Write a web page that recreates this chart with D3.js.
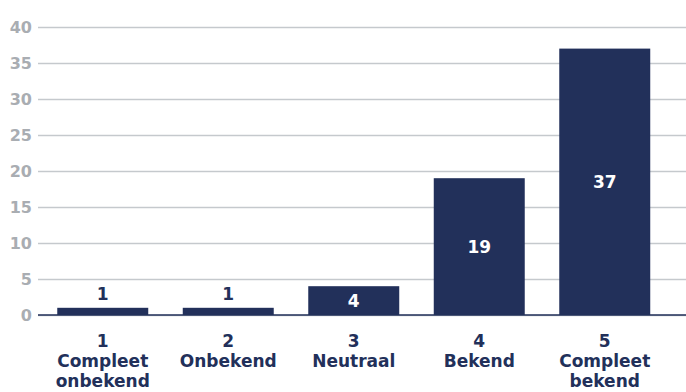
<!DOCTYPE html>
<html>
<head>
<meta charset="utf-8">
<script src="https://cdn.jsdelivr.net/npm/d3@7"></script>
<style>
  html, body { margin: 0; padding: 0; background: #ffffff; }
  svg { display: block; font-family: "DejaVu Sans", "Open Sans", sans-serif; font-weight: bold; }
</style>
</head>
<body>
<svg id="chart" width="686" height="392"></svg>
<script>
// Scores on a 1–5 scale and how many respondents picked each
const scores = ["1", "2", "3", "4", "5"];
const scoreNames = [["Compleet", "onbekend"], ["Onbekend"], ["Neutraal"], ["Bekend"], ["Compleet", "bekend"]];
const counts = [1, 1, 4, 19, 37];
const yTicks = [0, 5, 10, 15, 20, 25, 30, 35, 40];

const navy = "#22305a";
const grid = "#c5c9cd";
const tickGrey = "#a9adb2";

const svg = d3.select("#chart");

const x = d3.scaleBand()
  .domain(scores)
  .range([40, 667.5])
  .paddingInner(0.275)
  .paddingOuter(0.1375);

const y = d3.scaleLinear()
  .domain([0, 40])
  .range([315, 27]);

// Horizontal gridlines with tick labels on the left
const yAxis = d3.axisLeft(y)
  .tickValues(yTicks)
  .tickSize(-(686 - 38))
  .tickPadding(6);

const gy = svg.append("g")
  .attr("transform", "translate(38,0)")
  .call(yAxis);
gy.select(".domain").remove();
gy.selectAll(".tick line")
  .attr("stroke", grid)
  .attr("stroke-width", 1.6);
gy.selectAll(".tick text")
  .attr("fill", tickGrey)
  .attr("font-size", 16)
  .attr("font-weight", "bold")
  .attr("font-family", "DejaVu Sans, sans-serif");

// Bars
svg.append("g")
  .selectAll("rect")
  .data(counts)
  .join("rect")
  .attr("x", (d, i) => x(scores[i]))
  .attr("width", x.bandwidth())
  .attr("y", d => y(d))
  .attr("height", d => y(0) - y(d))
  .attr("fill", navy);

// Baseline
svg.append("line")
  .attr("x1", 38).attr("x2", 686)
  .attr("y1", y(0)).attr("y2", y(0))
  .attr("stroke", navy)
  .attr("stroke-width", 1.6);

// Value labels: centred inside tall enough bars, above very short ones
svg.append("g")
  .selectAll("text")
  .data(counts)
  .join("text")
  .attr("x", (d, i) => x(scores[i]) + x.bandwidth() / 2)
  .attr("y", d => (y(0) - y(d) > 20) ? (y(d) + y(0)) / 2 : y(d) - 14)
  .attr("dy", "0.36em")
  .attr("text-anchor", "middle")
  .attr("font-size", 17)
  .attr("fill", d => (y(0) - y(d) > 20) ? "#ffffff" : navy)
  .text(d => d);

// Category labels under the axis: score number then its name
const cat = svg.append("g")
  .selectAll("text")
  .data(scores)
  .join("text")
  .attr("x", d => x(d) + x.bandwidth() / 2)
  .attr("text-anchor", "middle")
  .attr("font-size", 17)
  .attr("fill", navy);

cat.each(function (d, i) {
  const t = d3.select(this);
  const lines = [d].concat(scoreNames[i]);
  lines.forEach((s, k) => {
    t.append("tspan")
      .attr("x", x(d) + x.bandwidth() / 2)
      .attr("y", 346.5 + k * 20.3)
      .text(s);
  });
});
</script>
</body>
</html>
